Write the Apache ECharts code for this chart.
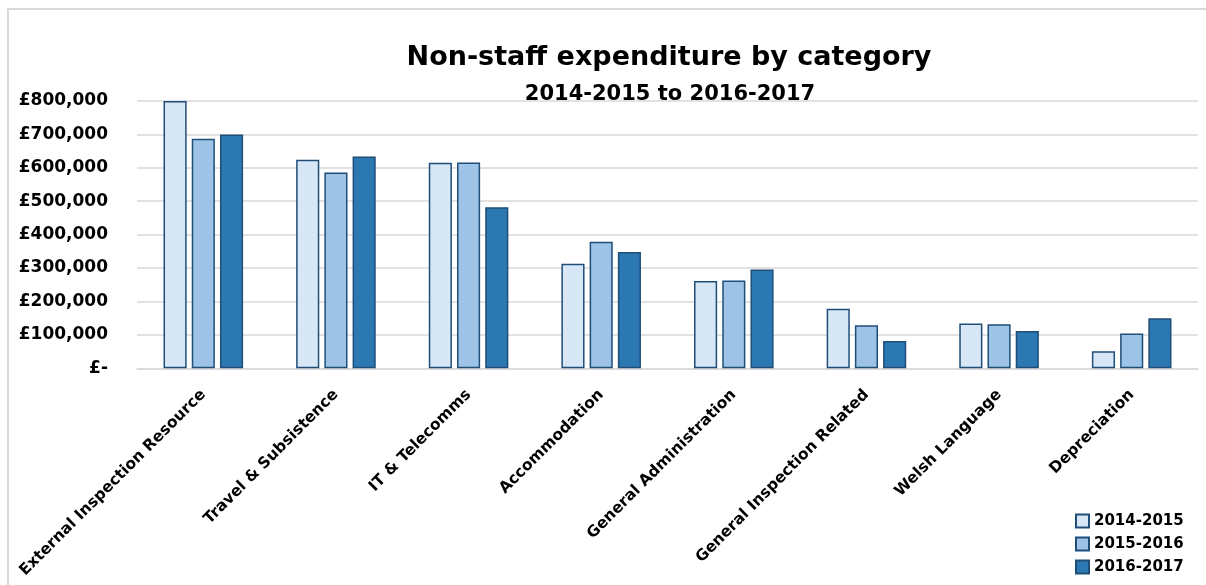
<!DOCTYPE html>
<html>
<head>
<meta charset="utf-8">
<script src="https://cdn.jsdelivr.net/npm/echarts@6/dist/echarts.min.js"></script>
<style>
html,body{margin:0;padding:0;background:#fff;}
#chart{width:1206px;height:585px;}
</style>
</head>
<body>
<div id="chart"></div>
<script>
const categories = ['External Inspection Resource','Travel & Subsistence','IT & Telecomms','Accommodation','General Administration','General Inspection Related','Welsh Language','Depreciation'];
const seriesNames = ['2014-2015','2015-2016','2016-2017'];
const values2014 = [800000, 624000, 615000, 313000, 261000, 178000, 134000, 51000];
const values2015 = [687000, 586000, 616000, 379000, 263000, 129000, 132000, 104000];
const values2016 = [700000, 634000, 482000, 348000, 296000, 82000, 112000, 150000];
const titleText = 'Non-staff expenditure by category';
const subtitleText = '2014-2015 to 2016-2017';

const colors = ['#D7E7F5', '#9DC3E6', '#2C78B2'];
const borderColor = '#1F4E79';
const font = '"DejaVu Sans"';

const chart = echarts.init(document.getElementById('chart'), null, {renderer: 'canvas'});
const allValues = [values2014, values2015, values2016];

chart.setOption({
  backgroundColor: '#ffffff',
  animation: false,
  textStyle: {fontFamily: font},
  graphic: [
    {type: 'rect', shape: {x: 8, y: 9, width: 1400, height: 800}, style: {fill: 'none', stroke: '#D9D9D9', lineWidth: 2}, silent: true, z: -1},
    {type: 'text', x: 669, y: 58, style: {text: titleText, font: 'bold 27px "DejaVu Sans"', fill: '#000', textAlign: 'center', textVerticalAlign: 'middle'}},
    {type: 'text', x: 670, y: 95, style: {text: subtitleText, font: 'bold 21px "DejaVu Sans"', fill: '#000', textAlign: 'center', textVerticalAlign: 'middle'}}
  ],
  legend: {
    orient: 'vertical',
    left: 1075,
    top: 512,
    padding: 0,
    icon: 'rect',
    itemWidth: 13,
    itemHeight: 13,
    itemGap: 5,
    textStyle: {fontFamily: font, fontWeight: 'bold', fontSize: 15, lineHeight: 18, color: '#000'},
    data: seriesNames
  },
  grid: {left: 137, right: 8, top: 101, bottom: 216.7, containLabel: false, outerBoundsMode: 'none'},
  xAxis: {
    type: 'category',
    data: categories,
    axisTick: {show: false},
    axisLine: {lineStyle: {color: '#D9D9D9', width: 1.5}},
    axisLabel: {
      interval: 0,
      rotate: 45,
      margin: 24,
      fontFamily: font,
      fontWeight: 'bold',
      fontSize: 15.5,
      color: '#000'
    }
  },
  yAxis: {
    type: 'value',
    min: 0,
    max: 800000,
    interval: 100000,
    axisLine: {show: false},
    axisTick: {show: false},
    splitLine: {lineStyle: {color: '#D9D9D9', width: 1.5}},
    axisLabel: {
      margin: 29,
      fontFamily: font,
      fontWeight: 'bold',
      fontSize: 17,
      color: '#000',
      formatter: function (v) { return v === 0 ? '£-' : '£' + v.toLocaleString('en-GB'); }
    }
  },
  series: seriesNames.map(function (name, i) {
    return {
      name: name,
      type: 'bar',
      data: allValues[i],
      barGap: '22%',
      barCategoryGap: '40%',
      itemStyle: {color: colors[i], borderColor: borderColor, borderWidth: 1.5}
    };
  })
});
</script>
</body>
</html>
